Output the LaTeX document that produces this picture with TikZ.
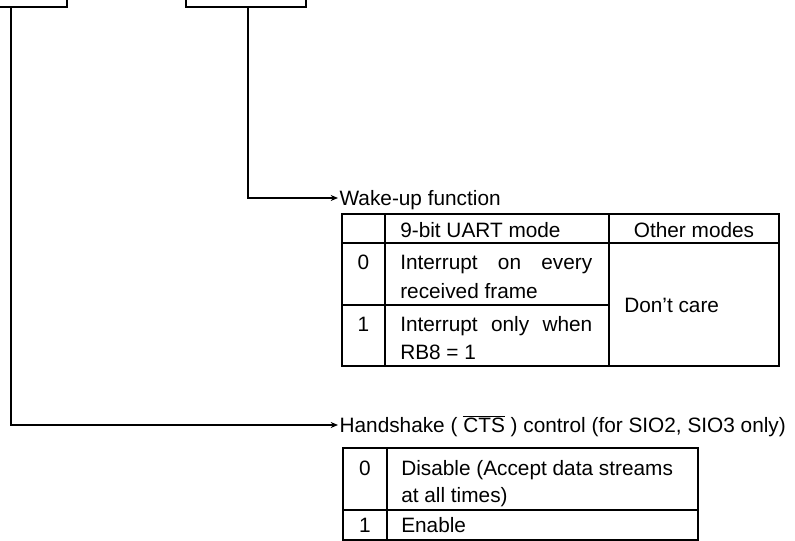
\documentclass[tikz,border=0pt]{standalone}
\usepackage{fontspec}
\setmainfont{Liberation Sans}
\usetikzlibrary{arrows.meta,fit}
\begin{document}
\begin{tikzpicture}[x=0.75pt,y=-0.75pt,
  fnt/.style={font=\fontsize{15.6}{18}\selectfont},
  txt/.style={fnt, inner sep=0pt, anchor=base west},
  ctxt/.style={fnt, inner sep=0pt, anchor=base},
  lbl/.style={fnt, anchor=west, inner xsep=1pt, inner ysep=0pt, text height=11pt, text depth=0pt},
  boxst/.style={draw, inner sep=0pt, line width=1.4pt},
  tbl/.style={line width=1.4pt},
  arr/.style={-{Stealth[length=5.5pt,width=4.5pt]}, line width=1.1pt}]
\useasboundingbox (0,0) rectangle (795,541);
\clip (0,0) rectangle (795,541);

% register boxes (cut by the top edge)
\node[boxst, fit={(-60,-40) (67,7)}] (box1) {};
\node[boxst, fit={(186,-40) (306,7)}] (box2) {};
\coordinate (v1) at (11,0);
\coordinate (v2) at (248,0);

% labels
\node[lbl] (wake) at (338,198) {Wake-up function};
\node[lbl] (hs) at (338,425) {Handshake ( $\overline{\mbox{CTS}}$ ) control (for SIO2, SIO3 only)};

% connectors
\draw[arr] (box2.south -| v2) |- (wake.west);
\draw[arr] (box1.south -| v1) |- (hs.west);

% wake-up table
\draw[tbl] (342,214) rectangle (779,366);
\draw[tbl] (342,243) -- (779,243);
\draw[tbl] (342,305) -- (609,305);
\draw[tbl] (385,214) -- (385,366);
\draw[tbl] (609,214) -- (609,366);

\node[txt] (h1) at (400,238) {9-bit UART mode};
\node[ctxt] (h2) at (694,238) {Other modes};
\node[ctxt] (i0) at (363.5,270) {0};
\node[txt] (t0a) at (400,270) {\makebox[144pt][s]{Interrupt on every}};
\node[txt] (t0b) at (400,299) {received frame};
\node[ctxt] (i1) at (363.5,331) {1};
\node[txt] (t1a) at (400,331) {\makebox[144pt][s]{Interrupt only when}};
\node[txt] (t1b) at (400,359) {RB8 = 1};
\node[txt] (dc) at (624,313) {Don’t care};

% handshake table
\draw[tbl] (343,448) rectangle (698,540);
\draw[tbl] (343,510) -- (698,510);
\draw[tbl] (387,448) -- (387,540);

\node[ctxt] (j0) at (365,475) {0};
\node[txt] (d0a) at (401,475) {Disable (Accept data streams};
\node[txt] (d0b) at (401,502) {at all times)};
\node[ctxt] (j1) at (365,532) {1};
\node[txt] (d1) at (401,532) {Enable};
\end{tikzpicture}
\end{document}
